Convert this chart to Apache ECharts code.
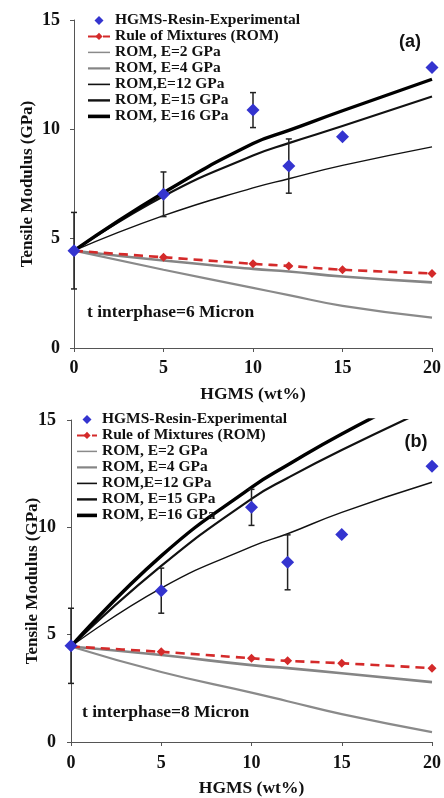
<!DOCTYPE html>
<html>
<head>
<meta charset="utf-8">
<script src="https://cdn.jsdelivr.net/npm/echarts@6/dist/echarts.min.js"></script>
<style>
html,body{margin:0;padding:0;background:#fff;}
#chart{width:444px;height:798px;}
</style>
</head>
<body>
<div id="chart"></div>
<script>
// ---- data ----
const hgms = [0, 5, 10, 12, 15, 20];
const seriesNames = ['HGMS-Resin-Experimental', 'Rule of Mixtures (ROM)', 'ROM, E=2 GPa', 'ROM, E=4 GPa', 'ROM,E=12 GPa', 'ROM, E=15 GPa', 'ROM, E=16 GPa'];

// panel (a): t interphase = 6 micron
const expA = [4.45, 7.03, 10.88, 8.32, 9.66, 12.83];
const errA = [1.75, 1.02, 0.8, 1.24, 0, 0];
const romA = [4.45, 4.15, 3.85, 3.75, 3.58, 3.41];
const e2A  = [4.45, 3.58, 2.75, 2.42, 1.93, 1.39];
const e4A  = [4.45, 4.0, 3.62, 3.5, 3.27, 3.0];
const e12A = [4.45, 6.05, 7.32, 7.74, 8.35, 9.2];
const e15A = [4.45, 6.94, 8.8, 9.37, 10.15, 11.5];
const e16A = [4.45, 7.1, 9.35, 9.95, 10.85, 12.29];

// panel (b): t interphase = 8 micron
const expB = [4.48, 7.05, 10.93, 8.37, 9.67, 12.84];
const errB = [1.75, 1.05, 0.84, 1.28, 0, 0];
const romB = [4.45, 4.2, 3.9, 3.78, 3.67, 3.44];
const e2B  = [4.45, 3.26, 2.3, 1.9, 1.3, 0.46];
const e4B  = [4.45, 4.05, 3.58, 3.44, 3.2, 2.79];
const e12B = [4.45, 7.17, 9.1, 9.7, 10.7, 12.1];
const e15B = [4.45, 8.2, 11.33, 12.3, 13.6, 15.6];
const e16B = [4.45, 8.67, 11.86, 12.9, 14.35, 16.5];

const panelLabels = ['(a)', '(b)'];
const notes = ['t interphase=6 Micron', 't interphase=8 Micron'];

// ---- styling helpers ----
const SERIF = '"Liberation Serif","Times New Roman",serif';
const pair = (ys) => hgms.map((x, i) => [x, ys[i]]);

function axisPair(idx, yGap, yMargin, xGap, xMargin) {
  const common = {
    axisLine: { show: true, lineStyle: { color: '#555', width: 1 } },
    axisTick: { show: true, inside: false, length: 4, lineStyle: { color: '#555' } },
    splitLine: { show: false },
    nameMoveOverlap: false,
    nameTextStyle: { fontFamily: SERIF, fontWeight: 'bold', fontSize: 17.5, color: '#111' },
  };
  return {
    x: Object.assign({}, common, {
      type: 'value', gridIndex: idx, min: 0, max: 20, interval: 5,
      name: 'HGMS (wt%)', nameLocation: 'middle', nameGap: xGap,
      axisLabel: { fontFamily: SERIF, fontWeight: 'bold', fontSize: 18, color: '#111', margin: xMargin },
    }),
    y: Object.assign({}, common, {
      type: 'value', gridIndex: idx, min: 0, max: 15, interval: 5,
      name: 'Tensile Modulus (GPa)', nameLocation: 'middle', nameGap: yGap,
      nameTextStyle: { fontFamily: SERIF, fontWeight: 'bold', fontSize: 17, color: '#111' },
      axisLabel: { fontFamily: SERIF, fontWeight: 'bold', fontSize: 18, color: '#111', margin: yMargin },
    }),
  };
}

function panelSeries(idx, exp, err, rom, e2, e4, e12, e15, e16) {
  const base = { xAxisIndex: idx, yAxisIndex: idx, smooth: 0.5, showSymbol: false, symbol: 'none', clip: true, animation: false };
  return [
    Object.assign({}, base, { name: seriesNames[2], type: 'line', data: pair(e2), lineStyle: { color: '#8a8a8a', width: 2.2 }, itemStyle: { color: '#8a8a8a' }, z: 2 }),
    Object.assign({}, base, { name: seriesNames[3], type: 'line', data: pair(e4), lineStyle: { color: '#858585', width: 2.6 }, itemStyle: { color: '#858585' }, z: 2 }),
    Object.assign({}, base, { name: seriesNames[4], type: 'line', data: pair(e12), lineStyle: { color: '#111', width: 1.4 }, itemStyle: { color: '#111' }, z: 3 }),
    Object.assign({}, base, { name: seriesNames[5], type: 'line', data: pair(e15), lineStyle: { color: '#111', width: 2.2 }, itemStyle: { color: '#111' }, z: 3 }),
    Object.assign({}, base, { name: seriesNames[6], type: 'line', data: pair(e16), lineStyle: { color: '#000', width: 3.4 }, itemStyle: { color: '#000' }, z: 3 }),
    {
      name: seriesNames[1], type: 'line', xAxisIndex: idx, yAxisIndex: idx, data: pair(rom), smooth: 0.3,
      symbol: 'diamond', symbolSize: 9, showSymbol: true,
      lineStyle: { color: '#d42a2a', width: 2.6, type: [9, 6] },
      itemStyle: { color: '#d42a2a' }, z: 4, animation: false,
    },
    {
      name: 'errbar' + idx, type: 'custom', xAxisIndex: idx, yAxisIndex: idx,
      data: hgms.map((x, i) => [x, exp[i], err[i]]), z: 5, animation: false, silent: true,
      renderItem: function (params, api) {
        const x = api.value(0), y = api.value(1), e = api.value(2);
        if (!e) return null;
        const top = api.coord([x, y + e]);
        const bot = api.coord([x, y - e]);
        const cw = 3;
        const st = { stroke: '#222', lineWidth: 1.5 };
        return {
          type: 'group',
          children: [
            { type: 'line', shape: { x1: top[0], y1: top[1], x2: bot[0], y2: bot[1] }, style: st },
            { type: 'line', shape: { x1: top[0] - cw, y1: top[1], x2: top[0] + cw, y2: top[1] }, style: st },
            { type: 'line', shape: { x1: bot[0] - cw, y1: bot[1], x2: bot[0] + cw, y2: bot[1] }, style: st },
          ],
        };
      },
    },
    {
      name: seriesNames[0], type: 'scatter', xAxisIndex: idx, yAxisIndex: idx, data: pair(exp),
      symbol: 'diamond', symbolSize: 13, itemStyle: { color: '#3434cf', opacity: 1 }, z: 6, animation: false,
    },
  ];
}

const axA = axisPair(0, 38, 14, 37, 11);
const axB = axisPair(1, 30, 15, 37, 12);

function linePath(w, t) { return 'path://M0 0H' + w + 'V' + t + 'H0Z'; }

function legend(left, top, itemWidth) {
  const w = itemWidth;
  return {
    orient: 'vertical', left: left, top: top, padding: 0,
    itemGap: 0, itemWidth: w, itemHeight: 9, symbolKeepAspect: true,
    data: [
      { name: seriesNames[0], icon: 'path://M5 0L10 5L5 10L0 5Z', itemStyle: { color: '#3434cf', opacity: 1 } },
      { name: seriesNames[1] },
      { name: seriesNames[2], icon: linePath(w * 10, 15) },
      { name: seriesNames[3], icon: linePath(w * 10, 22) },
      { name: seriesNames[4], icon: linePath(w * 10, 16) },
      { name: seriesNames[5], icon: linePath(w * 10, 24) },
      { name: seriesNames[6], icon: linePath(w * 10, 36) },
    ],
    textStyle: { fontFamily: SERIF, fontWeight: 'bold', fontSize: 15.5, color: '#111', lineHeight: 15.2 },
    selectedMode: false,
  };
}

const option = {
  backgroundColor: '#fff',
  animation: false,
  grid: [
    { left: 74, right: 11, top: 20, bottom: 450 },
    { left: 71, right: 11, top: 420, bottom: 55 },
  ],
  xAxis: [axA.x, axB.x],
  yAxis: [axA.y, axB.y],
  legend: [legend(87, 12.4, 22), legend(76, 411.4, 20)],
  graphic: [
    { type: 'text', x: 410, y: 42, style: { text: panelLabels[0], font: 'bold 18px "Liberation Sans",Arial,sans-serif', fill: '#111', textAlign: 'center', textVerticalAlign: 'middle' } },
    { type: 'text', x: 416, y: 442, style: { text: panelLabels[1], font: 'bold 18px "Liberation Sans",Arial,sans-serif', fill: '#111', textAlign: 'center', textVerticalAlign: 'middle' } },
    { type: 'text', x: 87, y: 312, style: { text: notes[0], font: 'bold 17.5px ' + SERIF, fill: '#111', textAlign: 'left', textVerticalAlign: 'middle' } },
    { type: 'text', x: 82, y: 712, style: { text: notes[1], font: 'bold 17.5px ' + SERIF, fill: '#111', textAlign: 'left', textVerticalAlign: 'middle' } },
  ],
  series: [].concat(
    panelSeries(0, expA, errA, romA, e2A, e4A, e12A, e15A, e16A),
    panelSeries(1, expB, errB, romB, e2B, e4B, e12B, e15B, e16B)
  ),
};

const chart = echarts.init(document.getElementById('chart'), null, { renderer: 'canvas' });
chart.setOption(option);
</script>
</body>
</html>
